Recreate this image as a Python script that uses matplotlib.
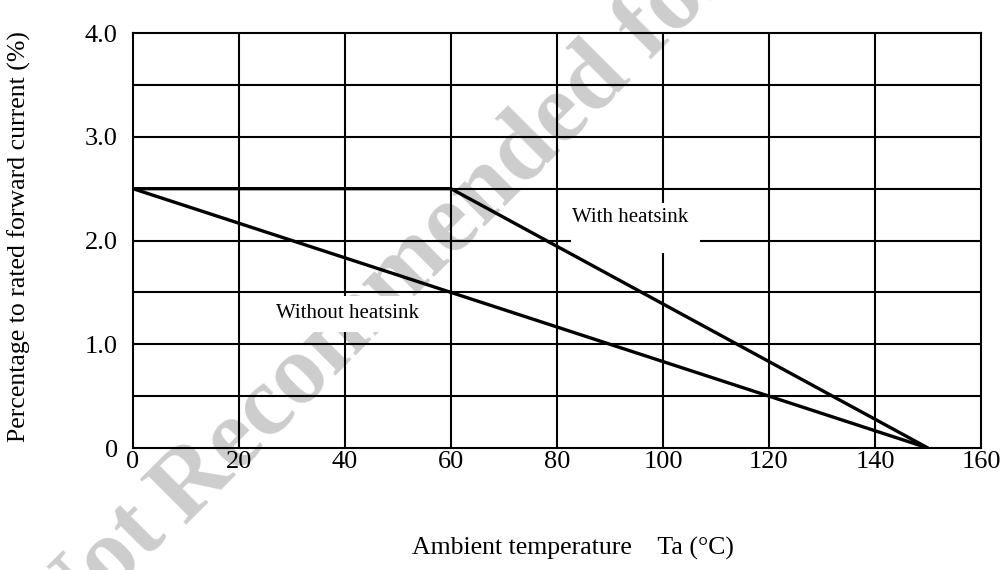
import matplotlib
matplotlib.use("Agg")
import matplotlib.pyplot as plt
from matplotlib.patches import Rectangle

# data
with_hs_temp = [0, 60, 150]
with_hs_pct = [2.5, 2.5, 0.0]
without_hs_temp = [0, 150]
without_hs_pct = [2.5, 0.0]

x_ticks = [0, 20, 40, 60, 80, 100, 120, 140, 160]
y_ticks = [0, 1.0, 2.0, 3.0, 4.0]
y_tick_labels = ["0", "1.0", "2.0", "3.0", "4.0"]
y_grid = [0.5, 1.0, 1.5, 2.0, 2.5, 3.0, 3.5]

plt.rcParams['font.family'] = ['Liberation Serif', 'DejaVu Serif']

fig = plt.figure(figsize=(10.05, 5.7), dpi=100)
ax = fig.add_axes([0.1323, 0.214, 0.8438, 0.728])

# watermark (behind the axes), anchored at the baseline start of "R"
wm = dict(fontsize=72, fontweight='bold', color='#cdcdcd', rotation=45,
          rotation_mode='anchor', va='baseline', zorder=-5)
fig.text(0.184, 0.077, "Recommended for New Design", ha='left', **wm)
fig.text(0.168, 0.060, "Not", ha='right', **wm)
ax.set_facecolor('none')

ax.set_xlim(0, 160)
ax.set_ylim(0, 4.0)

for x in x_ticks[1:-1]:
    ax.axvline(x, color='black', lw=1.5, zorder=1)
for y in y_grid:
    ax.axhline(y, color='black', lw=1.5, zorder=1)

ax.plot(with_hs_temp, with_hs_pct, color='black', lw=2.4, zorder=4,
        solid_capstyle='butt')
ax.plot(without_hs_temp, without_hs_pct, color='black', lw=2.4, zorder=4,
        solid_capstyle='butt')

# white boxes behind the labels
ax.add_patch(Rectangle((82.6, 1.88), 24.4, 0.48, facecolor='white',
                       edgecolor='none', zorder=2))
ax.add_patch(Rectangle((25.5, 1.12), 30.0, 0.35, facecolor='white',
                       edgecolor='none', zorder=2))
ax.text(93.8, 2.22, "With heatsink", fontsize=15, ha='center',
        va='center', zorder=3)
ax.text(40.4, 1.30, "Without heatsink", fontsize=15, ha='center',
        va='center', zorder=3)

ax.set_xticks(x_ticks)
ax.set_yticks(y_ticks)
ax.set_yticklabels(y_tick_labels)
ax.tick_params(length=0, labelsize=19)
ax.tick_params(axis='y', pad=11)
ax.tick_params(axis='x', pad=2)

for s in ax.spines.values():
    s.set_linewidth(1.5)

fig.text(0.019, 0.585, "Percentage to rated forward current (%)", fontsize=18.5,
         rotation=90, ha='center', va='center')
fig.text(0.570, 0.038, "Ambient temperature    Ta (\u00b0C)", fontsize=18.5,
         ha='center', va='center')

fig.savefig("out.png", dpi=100)
